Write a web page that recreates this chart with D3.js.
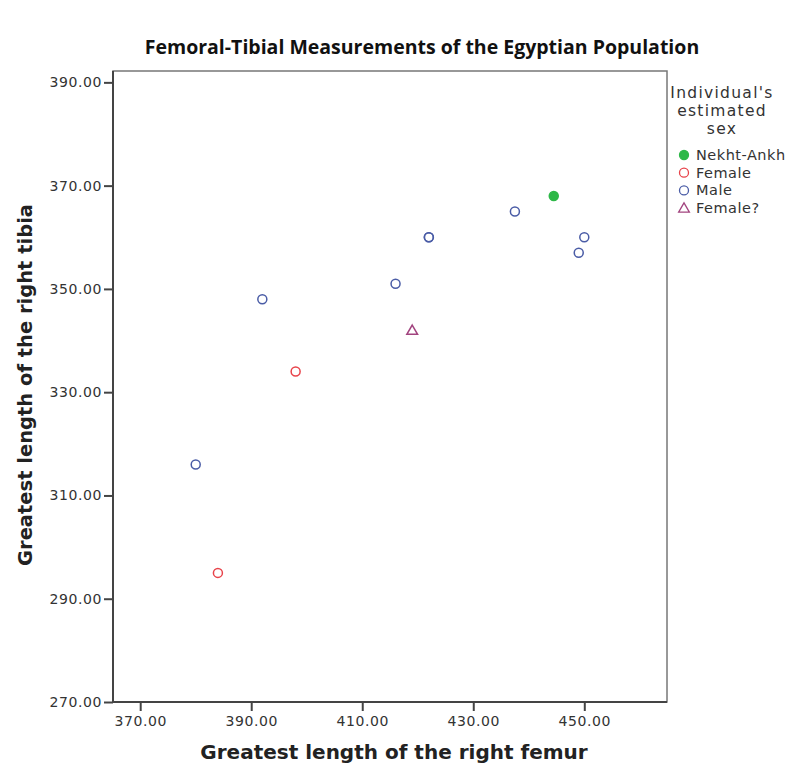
<!DOCTYPE html>
<html>
<head>
<meta charset="utf-8">
<script src="https://cdn.jsdelivr.net/npm/d3@7.9.0/dist/d3.min.js"></script>
<style>
  body { margin: 0; background: #fff; }
  svg { display: block; }
  .tick text { font-family: "DejaVu Sans", sans-serif; font-size: 14px; letter-spacing: 0.6px; fill: #333; }
</style>
</head>
<body>
<svg width="789" height="767"></svg>
<script>
// data
const groups = ["Nekht-Ankh", "Female", "Male", "Female?"];
const groupColors = ["#2EB848", "#E8434A", "#4A5CA6", "#A2447F"];
const femur = [444.5, 398, 384, 380, 392, 416, 422, 422, 437.5, 450, 449, 419];
const tibia = [368, 334, 295, 316, 348, 351, 360, 360, 365, 360, 357, 342];
const sex = ["Nekht-Ankh", "Female", "Female", "Male", "Male", "Male", "Male", "Male", "Male", "Male", "Male", "Female?"];
const xTicks = [370, 390, 410, 430, 450];
const yTicks = [270, 290, 310, 330, 350, 370, 390];

const points = femur.map((f, i) => ({ x: f, y: tibia[i], g: sex[i] }));

const svg = d3.select("svg");
const plotL = 113, plotR = 667, plotT = 71, plotB = 702;

let x = d3.scaleLinear().domain([365.1, 464.9]).range([plotL, plotR]);
let y = d3.scaleLinear().domain([270, 392.2]).range([plotB, plotT]);
let color = d3.scaleOrdinal().domain(groups).range(groupColors);

// frame
svg.append("rect")
  .attr("x", plotL).attr("y", plotT)
  .attr("width", plotR - plotL).attr("height", plotB - plotT)
  .attr("fill", "none").attr("stroke", "#777").attr("stroke-width", 1.5);

let xAxis = svg.append("g")
  .attr("transform", `translate(0,${plotB})`)
  .call(d3.axisBottom(x).tickValues(xTicks).tickFormat(d3.format(".2f")).tickSize(9).tickPadding(5));
let yAxis = svg.append("g")
  .attr("transform", `translate(${plotL},0)`)
  .call(d3.axisLeft(y).tickValues(yTicks).tickFormat(d3.format(".2f")).tickSize(9).tickPadding(2));

[xAxis, yAxis].forEach(a => {
  a.select(".domain").attr("stroke", "#444").attr("stroke-width", 2);
  a.selectAll(".tick line").attr("stroke", "#444").attr("stroke-width", 2);
});
xAxis.select(".domain").attr("d", `M${plotL},0H${plotR}`);
yAxis.select(".domain").attr("d", `M0,${plotT}V${plotB}`);

// points
const tri = d3.symbol().type(d3.symbolTriangle).size(50);
points.forEach(p => {
  if (p.g === "Female?") {
    svg.append("path")
      .attr("d", tri)
      .attr("transform", `translate(${x(p.x)},${y(p.y) + 1})`)
      .attr("fill", "none").attr("stroke", color(p.g)).attr("stroke-width", 1.5);
  } else {
    svg.append("circle")
      .attr("cx", x(p.x)).attr("cy", y(p.y)).attr("r", 4.5)
      .attr("fill", p.g === "Nekht-Ankh" ? color(p.g) : "none")
      .attr("stroke", color(p.g)).attr("stroke-width", 1.5);
  }
});

// titles
svg.append("text")
  .attr("x", 422).attr("y", 54)
  .attr("text-anchor", "middle")
  .attr("font-family", "'Open Sans', sans-serif").attr("font-weight", "bold").attr("font-size", 19.5)
  .attr("fill", "#111")
  .text("Femoral-Tibial Measurements of the Egyptian Population");

svg.append("text")
  .attr("x", 394).attr("y", 759)
  .attr("text-anchor", "middle")
  .attr("font-family", "'DejaVu Sans', sans-serif").attr("font-weight", "bold").attr("font-size", 20)
  .attr("fill", "#222")
  .text("Greatest length of the right femur");

svg.append("text")
  .attr("transform", `translate(32,${385}) rotate(-90)`)
  .attr("text-anchor", "middle")
  .attr("font-family", "'DejaVu Sans', sans-serif").attr("font-weight", "bold").attr("font-size", 19.5)
  .attr("fill", "#222")
  .text("Greatest length of the right tibia");

// legend
const legend = svg.append("g");
["Individual's", "estimated", "sex"].forEach((t, i) => {
  legend.append("text")
    .attr("x", 722).attr("y", 98 + i * 18)
    .attr("text-anchor", "middle")
    .attr("font-family", "'DejaVu Sans', sans-serif").attr("font-size", 15.5)
    .attr("letter-spacing", 1.3)
    .attr("fill", "#333")
    .text(t);
});
groups.forEach((g, i) => {
  let ly = 155 + i * 17.7;
  if (g === "Female?") {
    legend.append("path")
      .attr("d", tri)
      .attr("transform", `translate(684,${ly + 1})`)
      .attr("fill", "none").attr("stroke", color(g)).attr("stroke-width", 1.3);
  } else {
    legend.append("circle")
      .attr("cx", 684).attr("cy", ly).attr("r", 4.5)
      .attr("fill", g === "Nekht-Ankh" ? color(g) : "none")
      .attr("stroke", color(g)).attr("stroke-width", 1.3);
  }
  legend.append("text")
    .attr("x", 696).attr("y", ly + 5)
    .attr("font-family", "'DejaVu Sans', sans-serif").attr("font-size", 14.5)
    .attr("letter-spacing", 0.5)
    .attr("fill", "#333")
    .text(g);
});
</script>
</body>
</html>
